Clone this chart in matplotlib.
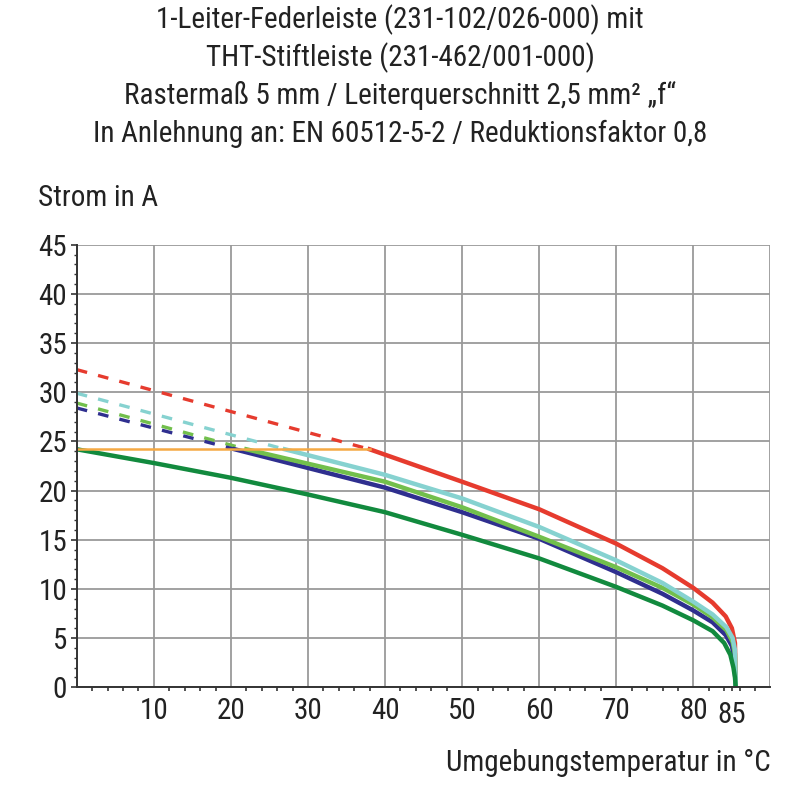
import numpy as np
import matplotlib
matplotlib.use("Agg")
import matplotlib.pyplot as plt
from matplotlib.ticker import FixedLocator, FixedFormatter, FuncFormatter

plt.rcParams['font.family'] = ['Roboto Condensed', 'DejaVu Sans']

title_lines = [
    "1-Leiter-Federleiste (231-102/026-000) mit",
    "THT-Stiftleiste (231-462/001-000)",
    "Rastermaß 5 mm / Leiterquerschnitt 2,5 mm² „f“",
    "In Anlehnung an: EN 60512-5-2 / Reduktionsfaktor 0,8",
]

# Kennlinien (Temperatur in °C, Strom in A)
red_x = [38, 40, 50, 60, 70, 76, 80, 82.5, 84.2, 85.0, 85.4, 85.5]
red_y = [24.2, 23.65, 20.9, 18.1, 14.6, 12.1, 10.1, 8.6, 7.2, 6.0, 4.5, 0]
red_dash_x = [0, 38]
red_dash_y = [32.3, 24.2]

cyan_x = [27, 40, 50, 60, 70, 76, 80, 82.5, 84.3, 85.1, 85.4, 85.5]
cyan_y = [24.2, 21.6, 19.2, 16.3, 12.9, 10.6, 8.7, 7.4, 6.1, 5.0, 3.8, 0]
cyan_dash_x = [0, 27]
cyan_dash_y = [29.9, 24.2]

lgreen_x = [22, 40, 50, 60, 70, 76, 80, 82.5, 84.3, 85.1, 85.4, 85.5]
lgreen_y = [24.2, 20.9, 18.3, 15.3, 12.2, 10.1, 8.4, 7.1, 5.8, 4.6, 3.4, 0]
lgreen_dash_x = [0, 22]
lgreen_dash_y = [28.9, 24.2]

navy_x = [20.5, 30, 40, 50, 60, 70, 76, 80, 82.5, 84.2, 85.0, 85.3, 85.5]
navy_y = [24.2, 22.3, 20.3, 17.8, 15.1, 11.7, 9.5, 7.8, 6.6, 5.3, 4.2, 3.0, 0]
navy_dash_x = [0, 20.5]
navy_dash_y = [28.4, 24.2]

dgreen_x = [0, 10, 20, 30, 40, 50, 60, 70, 76, 80, 82.5, 84.0, 84.8, 85.2, 85.4, 85.5]
dgreen_y = [24.2, 22.8, 21.3, 19.6, 17.8, 15.5, 13.1, 10.2, 8.3, 6.8, 5.7, 4.5, 3.3, 2.0, 1.0, 0]

orange_x = [0, 38]
orange_y = [24.2, 24.2]

fig = plt.figure(figsize=(8, 8), dpi=100)
ax = fig.add_axes([0.096, 0.141, 0.867, 0.553])

lw = 3.2
dlw = 2.4
dash = (3.2, 3.4)
ax.plot(red_dash_x, red_dash_y, color='#e63b2e', lw=dlw, dashes=dash, zorder=3)
ax.plot(cyan_dash_x, cyan_dash_y, color='#86d2d0', lw=dlw, dashes=dash, zorder=3)
ax.plot(lgreen_dash_x, lgreen_dash_y, color='#72bf4c', lw=dlw, dashes=dash, zorder=3)
ax.plot(navy_dash_x, navy_dash_y, color='#2f2f8f', lw=dlw, dashes=dash, zorder=3)

ax.plot(red_x, red_y, color='#e63b2e', lw=lw, zorder=4, solid_joinstyle='round')
ax.plot(navy_x, navy_y, color='#2f2f8f', lw=lw, zorder=5, solid_joinstyle='round')
ax.plot(lgreen_x, lgreen_y, color='#72bf4c', lw=lw, zorder=6, solid_joinstyle='round')
ax.plot(cyan_x, cyan_y, color='#86d2d0', lw=lw, zorder=7, solid_joinstyle='round')
ax.plot(dgreen_x, dgreen_y, color='#128a3e', lw=lw, zorder=8, solid_joinstyle='round')
ax.plot(orange_x, orange_y, color='#f5a944', lw=1.8, zorder=9)

ax.set_xlim(0, 90)
ax.set_ylim(0, 45)

xmaj = list(range(0, 91, 10))
ax.xaxis.set_major_locator(FixedLocator(xmaj))
ax.xaxis.set_major_formatter(FixedFormatter([''] + [str(v) for v in xmaj[1:-1]] + ['']))
xmin = list(range(2, 90, 2)) + [85]
ax.xaxis.set_minor_locator(FixedLocator(xmin))
ax.xaxis.set_minor_formatter(FuncFormatter(lambda v, p: '85' if abs(v - 85) < 0.01 else ''))

ax.set_yticks(range(0, 46, 5))
ax.set_yticks(range(0, 46, 1), minor=True)

ax.grid(True, which='major', color='#9a9a9a', lw=1.3)
ax.set_axisbelow(True)
for s in ['top', 'right']:
    ax.spines[s].set_visible(False)
for s in ['left', 'bottom']:
    ax.spines[s].set_color('#333333')
    ax.spines[s].set_linewidth(1.4)
    ax.spines[s].set_zorder(10)

ax.tick_params(axis='both', which='both', labelsize=21, colors='#333333', labelcolor='#222222')
ax.tick_params(axis='x', which='major', length=0, pad=7)
ax.tick_params(axis='x', which='minor', length=3, width=1.2, pad=7)
ax.tick_params(axis='y', which='major', length=4, width=1.2, pad=3)
ax.tick_params(axis='y', which='minor', length=2.5, width=1)

ax.set_xlabel("Umgebungstemperatur in °C", fontsize=21, color='#222222', labelpad=14, loc='right')
fig.text(0.047, 0.743, "Strom in A", fontsize=21, color='#222222')

for i, line in enumerate(title_lines):
    fig.text(0.5, 0.975 - i * 0.0475, line, fontsize=21, color='#222222', ha='center', va='center')

fig.savefig("out.png", dpi=100, facecolor='white')
